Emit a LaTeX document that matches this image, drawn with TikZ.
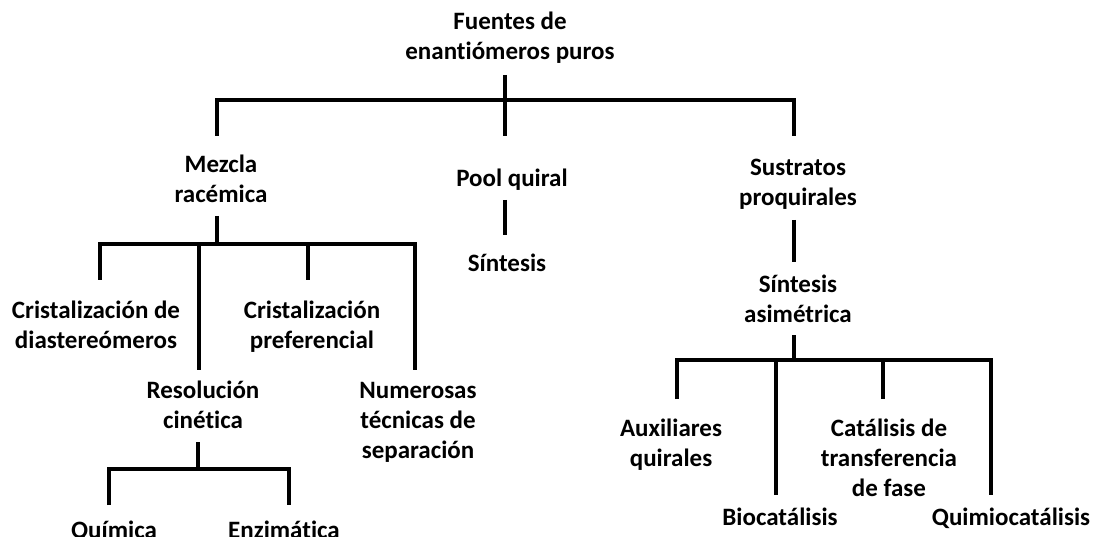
\documentclass[tikz,border=0pt]{standalone}
\usepackage{fontspec}
\setmainfont{Carlito}[Ligatures=NoCommon]
\begin{document}
\begin{tikzpicture}[x=1pt,y=-1pt,
  lbl/.style={anchor=base,align=center,inner sep=0pt,font=\bfseries\fontsize{25}{30}\selectfont},
  conn/.style={line width=4pt,line join=miter,line cap=butt}]
\useasboundingbox (0,0) rectangle (1100,537);
\fill[white] (0,0) rectangle (1100,537);
% nodes (anchor = baseline of last line)
\node[lbl] (root) at (510,60) {Fuentes de\\enantiómeros puros};
\node[lbl] (mezcla) at (221,203) {Mezcla\\racémica};
\node[lbl] (pool) at (512,187) {Pool quiral};
\node[lbl] (sint) at (507,272) {Síntesis};
\node[lbl] (sust) at (798,206) {Sustratos\\proquirales};
\node[lbl] (cdia) at (96,348) {Cristalización de\\diastereómeros};
\node[lbl] (cpref) at (312,348) {Cristalización\\preferencial};
\node[lbl] (resol) at (203,428) {Resolución\\cinética};
\node[lbl] (numer) at (418,458) {Numerosas\\técnicas de\\separación};
\node[lbl] (quim) at (114,538) {Química};
\node[lbl] (enz) at (284,538) {Enzimática};
\node[lbl] (sasim) at (798,322) {Síntesis\\asimétrica};
\node[lbl] (aux) at (671,466) {Auxiliares\\quirales};
\node[lbl] (ctf) at (889,496) {Catálisis de\\transferencia\\de fase};
\node[lbl] (bio) at (780,525) {Biocatálisis};
\node[lbl] (qcat) at (1011,525) {Quimiocatálisis};
% coordinates
\coordinate (rootS) at (505,75);
\coordinate (rootJ) at (505,100);
\coordinate (mezN) at (217,136);
\coordinate (poolN) at (505,136);
\coordinate (sustN) at (794,136);
\coordinate (poolS) at (505,200);
\coordinate (sintN) at (505,235);
\coordinate (mezS) at (217,216);
\coordinate (mezJ) at (217,244);
\coordinate (cdiaN) at (100,280);
\coordinate (resN) at (199,370);
\coordinate (cprefN) at (308,280);
\coordinate (numN) at (415,370);
\coordinate (resS) at (198,442);
\coordinate (resJ) at (198,469);
\coordinate (quimN) at (109,505);
\coordinate (enzN) at (289,505);
\coordinate (sustS) at (794,220);
\coordinate (sasimN) at (794,262);
\coordinate (sasimS) at (794,335);
\coordinate (sasimJ) at (794,360);
\coordinate (auxN) at (677,399);
\coordinate (bioN) at (776,495);
\coordinate (ctfN) at (883,399);
\coordinate (qcatN) at (991,495);
% connectors
\draw[conn] (rootS) -- (rootJ);
\draw[conn] (mezN) |- (rootJ) -| (sustN);
\draw[conn] (rootJ) -- (poolN);
\draw[conn] (poolS) -- (sintN);
\draw[conn] (mezS) -- (mezJ);
\draw[conn] (cdiaN) |- (mezJ) -| (numN);
\draw[conn] (mezJ -| resN) -- (resN);
\draw[conn] (mezJ -| cprefN) -- (cprefN);
\draw[conn] (resS) -- (resJ);
\draw[conn] (quimN) |- (resJ) -| (enzN);
\draw[conn] (sustS) -- (sasimN);
\draw[conn] (sasimS) -- (sasimJ);
\draw[conn] (auxN) |- (sasimJ) -| (qcatN);
\draw[conn] (sasimJ -| bioN) -- (bioN);
\draw[conn] (sasimJ -| ctfN) -- (ctfN);
\end{tikzpicture}
\end{document}
